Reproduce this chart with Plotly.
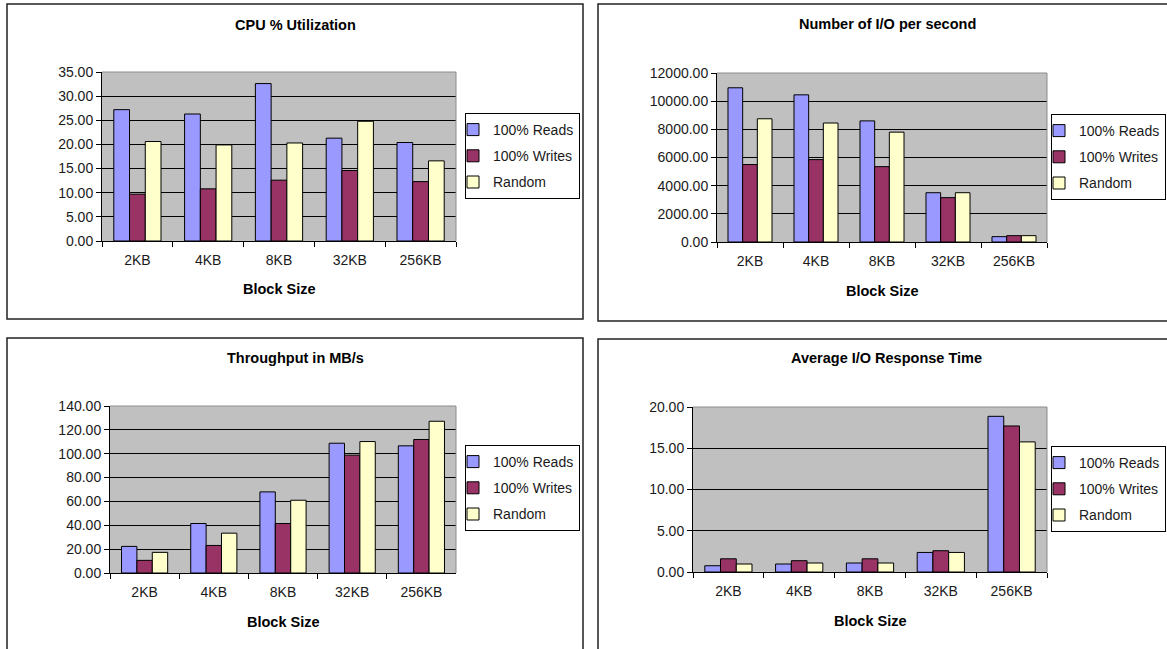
import plotly.graph_objects as go

# ---- data -------------------------------------------------------------
block_sizes = ["2KB", "4KB", "8KB", "32KB", "256KB"]
series_names = ["100% Reads", "100% Writes", "Random"]

cpu_reads = [27.2, 26.3, 32.6, 21.3, 20.4]
cpu_writes = [9.7, 10.8, 12.6, 14.6, 12.3]
cpu_random = [20.6, 19.9, 20.3, 24.8, 16.6]

iops_reads = [10950, 10450, 8600, 3500, 380]
iops_writes = [5500, 5850, 5350, 3150, 450]
iops_random = [8750, 8450, 7800, 3500, 450]

mbps_reads = [22.3, 41.5, 68.0, 108.8, 106.6]
mbps_writes = [10.6, 23.1, 41.5, 98.8, 111.9]
mbps_random = [17.3, 33.4, 61.0, 110.2, 127.2]

resp_reads = [0.76, 0.97, 1.09, 2.37, 18.87]
resp_writes = [1.60, 1.37, 1.60, 2.58, 17.70]
resp_random = [0.97, 1.09, 1.09, 2.37, 15.77]

chart_titles = ["CPU % Utilization", "Number of I/O per second",
                "Throughput in MB/s", "Average I/O Response Time"]
x_title = "Block Size"
y_ranges = [(0, 35, 5), (0, 12000, 2000), (0, 140, 20), (0, 20, 5)]

# ---- styling / layout -------------------------------------------------
W, H = 1167, 649
FONT = "Liberation Sans, Arial, sans-serif"
bar_colors = ["#9999FF", "#993366", "#FFFFCC"]
plot_bg = "#C0C0C0"


def xfrac(px):
    return px / W


def yfrac(py):
    return 1 - py / H


# per panel: plot area (x0, x1, ytop, ybottom), title pos, x-title y,
# legend top-left, outer frame
panels = [
    dict(plot=(102, 456, 72, 241), title=(295, 25), xt=289, leg=(465, 113),
         frame=(7, 4, 583, 319)),
    dict(plot=(717, 1047, 73, 242), title=(887, 24), xt=291, leg=(1051, 114),
         frame=(598, 4, 1180, 321)),
    dict(plot=(110, 456, 406, 573), title=(295, 358), xt=622, leg=(465, 445),
         frame=(7, 338, 583, 660)),
    dict(plot=(693, 1047, 407, 572), title=(886, 358), xt=621, leg=(1051, 446),
         frame=(598, 339, 1180, 660)),
]

datasets = [
    (cpu_reads, cpu_writes, cpu_random),
    (iops_reads, iops_writes, iops_random),
    (mbps_reads, mbps_writes, mbps_random),
    (resp_reads, resp_writes, resp_random),
]

fig = go.Figure()
layout = dict(
    width=W, height=H,
    margin=dict(l=0, r=0, t=0, b=0, autoexpand=False),
    paper_bgcolor="white",
    plot_bgcolor=plot_bg,
    bargap=0.333, bargroupgap=0,
    barmode="group",
    font=dict(family=FONT, size=14, color="#1a1a1a"),
    showlegend=True,
)
shapes = []
annotations = []

for i, (p, vals, ttl, yr) in enumerate(zip(panels, datasets, chart_titles, y_ranges)):
    n = "" if i == 0 else str(i + 1)
    xa, ya = "x" + n, "y" + n
    leg = "legend" + n
    for name, v, c in zip(series_names, vals, bar_colors):
        fig.add_trace(go.Bar(
            x=block_sizes, y=v, name=name,
            marker=dict(color=c, line=dict(color="black", width=1)),
            xaxis=xa, yaxis=ya, legend=leg, legendgroup=f"{leg}-{name}",
            hoverinfo="skip",
        ))

    x0, x1, yt, yb = p["plot"]
    layout["xaxis" + n] = dict(
        domain=[xfrac(x0), xfrac(x1)], anchor=ya,
        type="category", showgrid=False, zeroline=False,
        showline=True, linecolor="black", linewidth=1,
        ticks="outside", tickson="boundaries", ticklen=5, tickcolor="black",
        ticklabelstandoff=6,
        tickfont=dict(size=14, color="#1a1a1a"),
    )
    lo, hi, step = yr
    layout["yaxis" + n] = dict(
        domain=[yfrac(yb), yfrac(yt)], anchor=xa,
        range=[lo, hi], dtick=step, tick0=0, tickformat=".2f",
        showgrid=True, gridcolor="black", gridwidth=1, zeroline=False,
        showline=True, linecolor="black", linewidth=1,
        ticks="outside", ticklen=5, tickcolor="black",
        tickfont=dict(size=14, color="#1a1a1a"),
    )

    lx, ly = p["leg"]
    layout[leg] = dict(
        x=xfrac(lx), y=yfrac(ly), xanchor="left", yanchor="top",
        bgcolor="white", bordercolor="black", borderwidth=1,
        font=dict(family=FONT, size=14, color="#1a1a1a"),
        tracegroupgap=5, indentation=-13, itemclick=False,
    )

    # chart title and category-axis title
    tx, ty = p["title"]
    annotations.append(dict(
        text=f"<b>{ttl}</b>", x=xfrac(tx), y=yfrac(ty), xref="paper", yref="paper",
        showarrow=False, xanchor="center", yanchor="middle",
        font=dict(family=FONT, size=14.5, color="black"),
    ))
    annotations.append(dict(
        text=f"<b>{x_title}</b>", x=0.5, y=yfrac(p["xt"]), xref=xa + " domain",
        yref="paper", showarrow=False, xanchor="center", yanchor="middle",
        font=dict(family=FONT, size=14.5, color="black"),
    ))

    # light frame on the top and right edges of the plot area
    for (ax0, ay0, ax1, ay1) in [(0, 1, 1, 1), (1, 0, 1, 1)]:
        shapes.append(dict(
            type="line", xref=xa + " domain", yref=ya + " domain",
            x0=ax0, y0=ay0, x1=ax1, y1=ay1,
            line=dict(color="#8c8c8c", width=1), layer="above",
        ))

    # outer chart frame
    fx0, fy0, fx1, fy1 = p["frame"]
    shapes.append(dict(
        type="rect", xref="paper", yref="paper",
        x0=xfrac(fx0), x1=xfrac(fx1), y0=yfrac(fy1), y1=yfrac(fy0),
        line=dict(color="#222222", width=1.5), fillcolor="rgba(0,0,0,0)",
        layer="below",
    ))

layout["shapes"] = shapes
layout["annotations"] = annotations
fig.update_layout(**layout)

fig.write_html("out.html")
